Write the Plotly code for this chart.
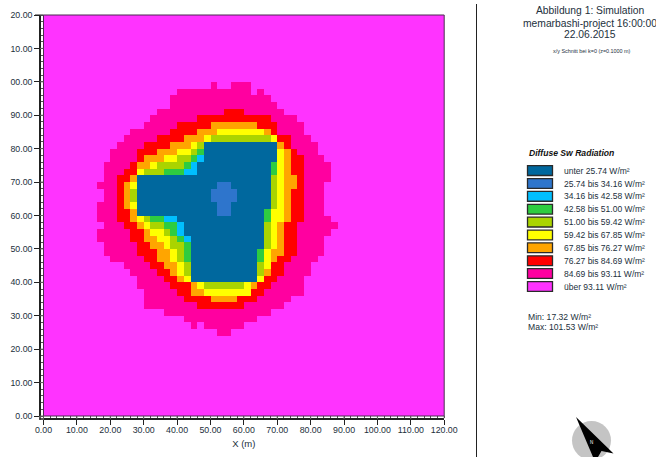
import numpy as np
import plotly.graph_objects as go

W, H = 656, 457
TICK_VALUES = list(range(0, 121, 10))
X_TICK_TEXT = ["0.00","10.00","20.00","30.00","40.00","50.00","60.00","70.00","80.00","90.00","100.00","110.00","120.00"]
Y_TICK_TEXT = ["0.00","10.00","20.00","30.00","40.00","50.00","60.00","70.00","80.00","90.00","00.00","10.00","20.00"]
BAND_COLORS = ["#00689E","#2E75CC","#00BFFF","#2ECC40","#AAD400","#FFFF00","#FFA500","#FF0000","#FF00A0","#FF33FF"]
BAND_LABELS = ["unter 25.74 W/m²","25.74 bis 34.16 W/m²","34.16 bis 42.58 W/m²","42.58 bis 51.00 W/m²",
               "51.00 bis 59.42 W/m²","59.42 bis 67.85 W/m²","67.85 bis 76.27 W/m²","76.27 bis 84.69 W/m²",
               "84.69 bis 93.11 W/m²","über 93.11 W/m²"]
TITLE_LINES = ["Abbildung 1: Simulation","memarbashi-project 16:00:00","22.06.2015"]
SUBTITLE = "x/y Schnitt bei k=0 (z=0.1000 m)"
LEGEND_TITLE = "Diffuse Sw Radiation"
STATS = ["Min: 17.32 W/m²","Max: 101.53 W/m²"]

# band of each 2 m cell: row (from top) -> (first column, band) runs; everything else is band 9
RUNS = {
10:[(25,8),(26,9),(28,8),(31,9)],
11:[(20,8),(31,9),(32,8),(33,9)],
12:[(19,8),(34,9)],
13:[(19,8),(35,9)],
14:[(17,8),(27,7),(30,8),(36,9)],
15:[(16,8),(23,7),(34,8),(38,9)],
16:[(15,8),(20,7),(25,6),(32,7),(35,8),(39,9)],
17:[(13,8),(19,7),(23,6),(26,5),(33,6),(34,7),(35,8),(39,9)],
18:[(12,8),(17,7),(21,6),(24,5),(25,4),(34,5),(35,7),(37,8),(40,9)],
19:[(11,8),(15,7),(19,6),(22,5),(23,4),(24,0),(35,6),(36,7),(37,8),(41,9)],
20:[(10,8),(14,7),(17,6),(20,5),(22,4),(23,3),(24,0),(35,5),(36,6),(37,7),(38,8),(41,9)],
21:[(10,8),(14,7),(15,6),(18,5),(20,4),(22,3),(23,2),(24,0),(35,5),(36,6),(37,7),(39,8),(42,9)],
22:[(9,8),(13,7),(14,6),(16,5),(17,4),(21,3),(22,2),(23,0),(34,3),(35,5),(36,6),(37,7),(39,8),(43,9)],
23:[(9,8),(12,7),(14,5),(15,4),(18,3),(21,2),(23,0),(34,3),(35,5),(36,6),(37,7),(39,8),(43,9)],
24:[(9,8),(11,7),(13,6),(14,0),(34,4),(35,5),(36,6),(38,7),(39,8),(43,9)],
25:[(8,8),(11,7),(12,6),(13,5),(14,0),(26,1),(28,0),(34,4),(35,5),(36,6),(38,7),(39,8),(42,9)],
26:[(9,8),(11,7),(12,6),(13,4),(14,0),(25,1),(29,0),(34,4),(35,5),(36,6),(37,7),(39,8),(42,9)],
27:[(9,8),(11,7),(12,6),(13,4),(14,0),(25,1),(29,0),(34,4),(35,5),(36,6),(37,7),(39,8),(42,9)],
28:[(8,8),(11,7),(12,6),(13,5),(14,0),(26,1),(28,0),(34,4),(35,5),(36,6),(37,7),(39,8),(42,9)],
29:[(8,8),(11,7),(13,6),(14,0),(26,1),(28,0),(33,3),(34,5),(36,6),(37,7),(39,8),(42,9)],
30:[(8,8),(11,7),(13,6),(14,5),(15,4),(16,3),(18,2),(20,0),(33,3),(34,5),(36,6),(37,7),(39,8),(43,9)],
31:[(9,8),(12,7),(14,6),(15,5),(16,4),(18,3),(20,2),(21,0),(33,4),(34,5),(35,6),(36,7),(38,8),(44,9)],
32:[(8,8),(13,7),(15,6),(16,5),(18,4),(19,3),(20,2),(21,0),(33,4),(34,5),(35,6),(36,7),(38,8),(43,9)],
33:[(8,8),(13,7),(15,6),(17,5),(19,4),(20,3),(21,2),(22,0),(33,4),(34,5),(35,6),(36,7),(38,8),(42,9)],
34:[(9,8),(14,7),(16,6),(18,5),(19,4),(21,3),(22,0),(33,4),(34,5),(35,6),(36,7),(38,8),(42,9)],
35:[(9,8),(14,7),(17,6),(19,5),(20,4),(21,3),(22,0),(32,3),(33,5),(34,6),(36,7),(38,8),(42,9)],
36:[(10,8),(15,7),(17,6),(19,5),(20,4),(21,3),(22,0),(32,3),(33,5),(34,6),(35,7),(37,8),(41,9)],
37:[(12,8),(16,7),(18,6),(20,5),(21,4),(22,0),(32,4),(33,5),(34,7),(36,8),(40,9)],
38:[(13,8),(17,7),(19,6),(20,5),(21,4),(22,0),(32,4),(33,6),(34,7),(36,8),(40,9)],
39:[(14,8),(18,7),(20,6),(21,5),(22,0),(32,5),(33,7),(35,8),(39,9)],
40:[(14,8),(19,7),(22,6),(23,5),(24,4),(30,5),(31,6),(32,7),(34,8),(39,9)],
41:[(15,8),(20,7),(22,6),(24,5),(31,7),(33,8),(39,9)],
42:[(15,8),(21,7),(25,6),(29,7),(32,8),(37,9)],
43:[(15,8),(23,7),(30,8),(36,9)],
44:[(18,8),(34,9)],
45:[(21,8),(32,9)],
46:[(22,8),(23,9),(24,8),(30,9)],
47:[(26,8),(28,9)],
}

z = np.full((60, 60), 9)
for row, runs in RUNS.items():
    for i, (start, band) in enumerate(runs):
        end = runs[i + 1][0] if i + 1 < len(runs) else 60
        z[row, start:end] = band
z = z[::-1]  # bottom row first

cells = np.arange(1, 120, 2)
n = len(BAND_COLORS)
scale = []
for i, c in enumerate(BAND_COLORS):
    scale += [[i / n, c], [(i + 1) / n, c]]

def px(x): return x / W
def py(y): return 1 - y / H

fig = go.Figure(go.Heatmap(x=cells, y=cells, z=z, zmin=0, zmax=n, colorscale=scale, showscale=False,
                           hoverinfo="skip"))
FONT = "Liberation Sans"
INK = "#22303c"
tick_font = dict(family=FONT, size=8.8, color=INK)
fig.update_layout(
    width=W, height=H, margin=dict(l=0, r=0, t=0, b=0), paper_bgcolor="white", plot_bgcolor="white",
    showlegend=False, font=dict(family=FONT),
    xaxis=dict(domain=[px(43.5), px(444.2)], range=[0, 120], anchor="free", position=py(419), automargin=False,
               tickmode="array", tickvals=TICK_VALUES, ticktext=X_TICK_TEXT, ticks="outside", ticklen=5,
               ticklabelstandoff=-2,
               tickcolor="#222", showline=True, linecolor="#222", linewidth=1.5, showgrid=False, zeroline=False,
               minor=dict(ticks="inside", ticklen=2.5, dtick=2, tickcolor="#555", showgrid=False),
               tickfont=tick_font, title=dict(text="X (m)", font=dict(family=FONT, size=9.5, color=INK), standoff=5)),
    yaxis=dict(domain=[py(416), py(15)], range=[0, 120], anchor="free", position=px(40), automargin=False,
               tickmode="array", tickvals=TICK_VALUES, ticktext=Y_TICK_TEXT, ticks="outside", ticklen=5,
               tickcolor="#222", showline=True, linecolor="#222", linewidth=1.5, showgrid=False, zeroline=False,
               minor=dict(ticks="inside", ticklen=2.5, dtick=2, tickcolor="#555", showgrid=False),
               tickfont=tick_font),
)

shapes = [
    dict(type="line", xref="paper", yref="paper", x0=px(476.5), x1=px(476.5), y0=0, y1=py(4), line=dict(color="#222", width=1)),
    dict(type="line", xref="paper", yref="paper", x0=px(40), x1=px(40), y0=py(15), y1=py(419.7), line=dict(color="#222", width=1.5)),
    dict(type="line", xref="paper", yref="paper", x0=px(39.3), x1=px(44), y0=py(419), y1=py(419), line=dict(color="#222", width=1.5)),
    dict(type="line", xref="paper", yref="paper", x0=px(35), x1=px(43.5), y0=py(15), y1=py(15), line=dict(color="#222", width=1)),
    dict(type="rect", xref="paper", yref="paper", x0=px(43.5), x1=px(444.2), y0=py(416), y1=py(15), line=dict(color="#4a2a50", width=1)),
    # north arrow
    dict(type="circle", xref="paper", yref="paper", x0=px(572), x1=px(611), y0=py(421), y1=py(460),
         fillcolor="#C4C4C4", line=dict(width=0)),
    dict(type="path", xref="paper", yref="paper", fillcolor="#000", line=dict(width=0),
         path=f"M {px(576)} {py(417)} L {px(613.5)} {py(453.5)} L {px(601.5)} {py(451)} L {px(598)} {py(457)} L {px(593)} {py(457)} Z"),
]
for v in TICK_VALUES:
    shapes.append(dict(type="line", xref="x", yref="paper", x0=v, x1=v, y0=py(416), y1=py(419), line=dict(color="#666", width=1)))
    shapes.append(dict(type="line", xref="paper", yref="y", x0=px(40), x1=px(43.5), y0=v, y1=v, line=dict(color="#666", width=1)))

SW_TOP, SW_STEP = 165.7, 12.87
annotations = []
def text(x, y, s, size, anchor="left", **kw):
    annotations.append(dict(xref="paper", yref="paper", x=px(x), y=py(y), text=s, showarrow=False,
                            xanchor=anchor, yanchor="middle", borderpad=0,
                            font=dict(family=FONT, size=size, color=kw.get("color", INK))))

for i, (c, lab) in enumerate(zip(BAND_COLORS, BAND_LABELS)):
    y0 = SW_TOP + i * SW_STEP
    shapes.append(dict(type="rect", xref="paper", yref="paper", x0=px(527.5), x1=px(552.5), y0=py(y0), y1=py(y0 + 9.8),
                       fillcolor=c, line=dict(color="#2a2a2a", width=1.3)))
    text(563, y0 + 5, lab, 8.5)

for y, s in zip([10, 23, 35], TITLE_LINES):
    text(589.5, y, s, 10.3, "center")
text(592, 50.5, SUBTITLE, 5.4, "center")
text(528, 153, f"<b><i>{LEGEND_TITLE}</i></b>", 8.6, color="#111")
text(527, 317, STATS[0], 8.6)
text(527, 327, STATS[1], 8.6)
text(591.5, 442.5, "N", 4.5, "center", color="#fff")
fig.update_layout(shapes=shapes, annotations=annotations)
fig.write_html("out.html", post_script="document.body.style.margin='0';", config={"displayModeBar": False})
